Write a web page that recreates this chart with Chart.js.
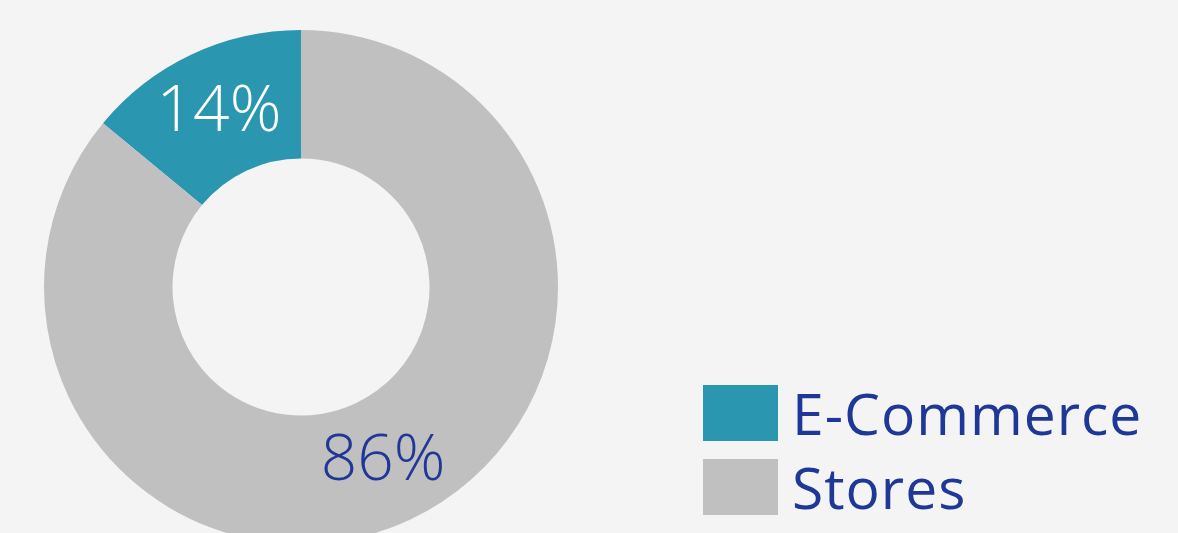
<!DOCTYPE html>
<html>
<head>
<meta charset="utf-8">
<script src="https://cdn.jsdelivr.net/npm/chart.js@4"></script>
<style>
    html, body { margin: 0; padding: 0; background: #f4f4f4; overflow: hidden; }
    #wrap { position: relative; width: 1178px; height: 533px; overflow: hidden; }
    #box { position: absolute; left: 0; top: 0; width: 1178px; height: 560px; }
    #legend { position: absolute; left: 703px; top: 385px; font-family: "Open Sans", sans-serif; }
    .item { display: flex; align-items: center; height: 56px; margin-bottom: 18px; }
    .swatch { width: 75px; height: 56px; margin-right: 14px; }
    .name { font-size: 57px; color: #1f3797; letter-spacing: 1px; line-height: 56px; }
</style>
</head>
<body>
<div id="wrap">
    <div id="box"><canvas id="myChart"></canvas></div>
    <div id="legend"></div>
</div>
<script>

    const labels = ['E-Commerce', 'Stores'];
    const shares = [14, 86];
    const colors = ['#2a96b0', '#c0c0c0'];
    const labelColors = ['#ffffff', '#1f3797'];

    // percentage text in the middle of each ring segment
    const sliceLabels = {
        id: 'sliceLabels',
        afterDatasetsDraw(chart) {
            const ctx = chart.ctx;
            const meta = chart.getDatasetMeta(0);
            ctx.save();
            ctx.font = '300 64px "Open Sans", sans-serif';
            ctx.textAlign = 'center';
            ctx.textBaseline = 'middle';
            meta.data.forEach((arc, i) => {
                const p = arc.tooltipPosition();
                ctx.fillStyle = labelColors[i];
                ctx.fillText(shares[i] + '%', p.x, p.y);
            });
            ctx.restore();
        }
    };

    const config = {
        type: 'doughnut',
        data: {
            labels: labels,
            datasets: [{
                data: shares,
                backgroundColor: colors,
                borderWidth: 0
            }]
        },
        options: {
            responsive: true,
            maintainAspectRatio: false,
            animation: false,
            cutout: '50%',
            rotation: -shares[0] * 3.6,
            layout: {
                padding: { left: 44, right: 620, top: 30, bottom: 16 }
            },
            plugins: {
                legend: { display: false },
                tooltip: { enabled: false }
            }
        },
        plugins: [sliceLabels]
    };

    const ctx = document.getElementById('myChart');
    new Chart(ctx, config);

    // legend next to the ring
    const legend = document.getElementById('legend');
    labels.forEach((name, i) => {
        const row = document.createElement('div');
        row.className = 'item';
        row.innerHTML = '<div class="swatch" style="background:' + colors[i] + '"></div><span class="name">' + name + '</span>';
        legend.appendChild(row);
    });
</script>
</body>
</html>
